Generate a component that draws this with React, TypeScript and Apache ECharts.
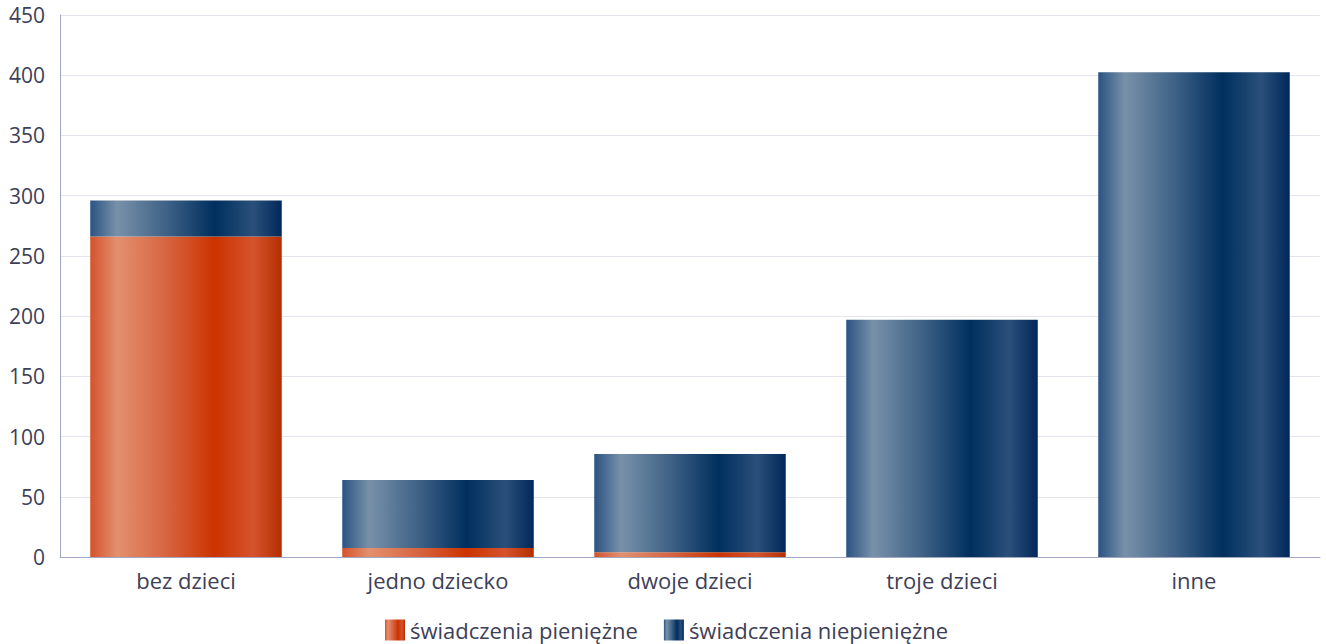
import React, { useEffect, useRef } from "react";
import * as echarts from "echarts";

const categories = ["bez dzieci", "jedno dziecko", "dwoje dzieci", "troje dzieci", "inne"];
const cashBenefits = [266, 7.5, 4, 0, 0];
const nonCashBenefits = [30, 56.5, 81.5, 197, 402.5];
const seriesNames = ["świadczenia pieniężne", "świadczenia niepieniężne"];

const grad = (stops: [number, string][]) =>
  new echarts.graphic.LinearGradient(0, 0, 1, 0, stops.map(([offset, color]) => ({ offset, color })));

const orangeGrad = () =>
  grad([
    [0, "#d4522a"],
    [0.14, "#e3906f"],
    [0.4, "#d76440"],
    [0.65, "#cc3300"],
    [0.85, "#d5532d"],
    [1, "#b52e00"],
  ]);
const blueGrad = () =>
  grad([
    [0, "#2b5382"],
    [0.14, "#7891a9"],
    [0.4, "#3e6186"],
    [0.65, "#002f5e"],
    [0.85, "#2a507a"],
    [1, "#00285a"],
  ]);

export default function App() {
  const ref = useRef<HTMLDivElement>(null);
  useEffect(() => {
    if (!ref.current) return;
    const chart = echarts.init(ref.current, undefined, { renderer: "svg" });
    const textColor = "#3d4058";
    const font = "'Open Sans', 'Noto Sans', sans-serif";
    chart.setOption({
      animation: false,
      textStyle: { fontFamily: font },
      grid: { left: 60, right: 6, top: 15, bottom: 87 },
      legend: {
        top: 614,
        left: 380,
        itemWidth: 20,
        itemHeight: 21,
        itemGap: 26,
        icon: "rect",
        textStyle: { color: textColor, fontSize: 22, fontFamily: font },
        data: seriesNames,
      },
      xAxis: {
        type: "category",
        data: categories,
        axisLine: { lineStyle: { color: "#a3a6c2" } },
        axisTick: { show: false },
        axisLabel: { color: textColor, fontSize: 22, margin: 12, fontFamily: font },
      },
      yAxis: {
        type: "value",
        min: 0,
        max: 450,
        interval: 50,
        axisLine: { show: true, lineStyle: { color: "#a3a6c2" } },
        axisTick: { show: false },
        splitLine: { lineStyle: { color: "#e4e4ec" } },
        axisLabel: { color: textColor, fontSize: 21, margin: 15, fontFamily: font },
      },
      series: [
        {
          name: seriesNames[0],
          type: "bar",
          stack: "total",
          barWidth: "76%",
          data: cashBenefits,
          itemStyle: { color: orangeGrad() },
        },
        {
          name: seriesNames[1],
          type: "bar",
          stack: "total",
          barWidth: "76%",
          data: nonCashBenefits,
          itemStyle: { color: blueGrad() },
        },
      ],
    });
    return () => chart.dispose();
  }, []);
  return (
    <div
      ref={ref}
      style={{ position: "absolute", left: 0, top: 0, width: 1326, height: 644 }}
    />
  );
}
